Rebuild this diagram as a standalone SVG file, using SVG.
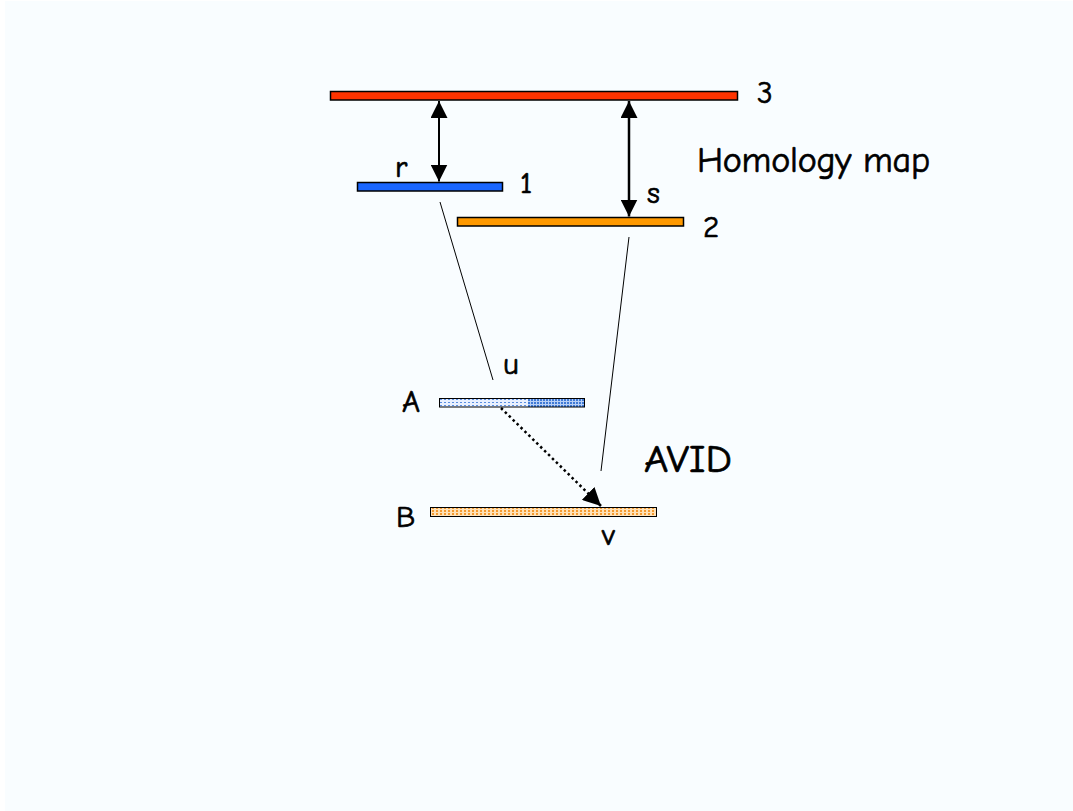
<svg xmlns="http://www.w3.org/2000/svg" width="1073" height="811" viewBox="0 0 1073 811">
<style>
.t{font-family:"Comic Neue","Open Sans","DejaVu Sans",sans-serif;fill:#000;stroke:#000;stroke-width:0.7}
.lbl{font-size:31px}
.big{font-size:36px}
.bar{stroke:#000;stroke-width:1.5}
.conn{stroke:#000;fill:none}
</style>
<defs>
<marker id="ah" viewBox="0 0 10 10" refX="10" refY="5" markerWidth="17" markerHeight="17" markerUnits="userSpaceOnUse" orient="auto-start-reverse">
<path d="M0,0 L10,5 L0,10 z" fill="#000"/>
</marker>
<marker id="ah2" viewBox="0 0 10 10" refX="10" refY="5" markerWidth="18" markerHeight="18" markerUnits="userSpaceOnUse" orient="auto">
<path d="M0,0 L10,5 L0,10 z" fill="#000"/>
</marker>
<pattern id="pb" width="4" height="3" patternUnits="userSpaceOnUse">
<rect width="4" height="3" fill="#e8f0ff"/>
<rect width="2" height="1" fill="#5b8fe0"/>
</pattern>
<pattern id="pb2" width="3" height="3" patternUnits="userSpaceOnUse">
<rect width="3" height="3" fill="#b8cff5"/>
<rect width="2" height="2" fill="#3f7ad6"/>
</pattern>
<pattern id="po" width="4" height="3" patternUnits="userSpaceOnUse">
<rect width="4" height="3" fill="#ffe2b8"/>
<rect width="2" height="2" fill="#f59a30"/>
</pattern>
</defs>
<rect width="1073" height="811" fill="#fff"/>
<rect x="5" y="1" width="1068" height="810" fill="#f9fdff"/>

<g id="bar3"><rect class="bar" x="330.5" y="91.5" width="407" height="8.5" fill="#ff3300"/><text class="t lbl" x="757" y="103">3</text></g>
<g id="bar1"><rect class="bar" x="357.5" y="182.5" width="145" height="8.5" fill="#1a66ff"/><text class="t lbl" x="520" y="193">1</text><text class="t lbl" x="395" y="177">r</text></g>
<g id="bar2"><rect class="bar" x="457.5" y="217.5" width="226" height="8.5" fill="#ff9900"/><text class="t lbl" x="703" y="237">2</text><text class="t lbl" x="647" y="203">s</text></g>
<g id="barA"><rect x="439.5" y="398.5" width="145" height="8.5" fill="url(#pb)"/><rect x="528" y="398.5" width="56.5" height="8.5" fill="url(#pb2)"/><rect x="439.5" y="398.5" width="145" height="8.5" fill="none" stroke="#000" stroke-width="1"/><text class="t lbl" x="402" y="412">A</text><text class="t lbl" x="503" y="374">u</text></g>
<g id="barB"><rect x="430.5" y="507.5" width="226" height="9" fill="url(#po)" stroke="#000" stroke-width="1"/><text class="t lbl" x="396" y="527">B</text><text class="t lbl" x="602" y="545">v</text></g>
<g id="labels"><text class="t big" x="697" y="172" textLength="233" lengthAdjust="spacing">Homology map</text><text class="t" style="font-size:38px" x="644" y="472" textLength="88" lengthAdjust="spacingAndGlyphs">AVID</text></g>

<g id="connectors">
<line class="conn" x1="439" y1="101" x2="439" y2="181.5" stroke-width="2" marker-start="url(#ah)" marker-end="url(#ah)"/>
<line class="conn" x1="629" y1="101" x2="629" y2="216.5" stroke-width="2.5" marker-start="url(#ah)" marker-end="url(#ah)"/>
<line class="conn" x1="440" y1="202" x2="493" y2="380" stroke-width="1"/>
<line class="conn" x1="629" y1="237" x2="601" y2="471" stroke-width="1"/>
<line class="conn" x1="501" y1="408" x2="601" y2="506" stroke-width="2.5" stroke-dasharray="2.5 3" marker-end="url(#ah2)"/>
</g>
</svg>
